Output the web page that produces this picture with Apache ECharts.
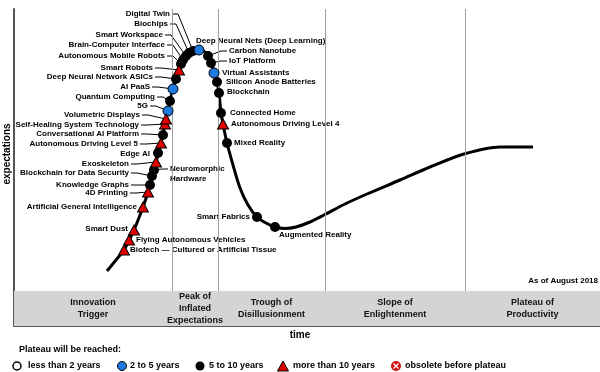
<!DOCTYPE html>
<html><head><meta charset="utf-8">
<script src="https://cdn.jsdelivr.net/npm/echarts@6/dist/echarts.min.js"></script>
<style>html,body{margin:0;padding:0;background:#fff}#c{width:600px;height:372px}</style>
</head><body><div id="c"></div>
<script>
// ---------- DATA ----------
const technologies = [
  'Biotech \u2014 Cultured or Artificial Tissue','Flying Autonomous Vehicles','Smart Dust',
  'Artificial General Intelligence','4D Printing','Knowledge Graphs','Blockchain for Data Security',
  'Neuromorphic\nHardware','Exoskeleton','Edge AI','Autonomous Driving Level 5',
  'Conversational AI Platform','Self-Healing System Technology','Volumetric Displays','5G',
  'Quantum Computing','AI PaaS','Deep Neural Network ASICs','Smart Robots',
  'Autonomous Mobile Robots','Brain-Computer Interface','Smart Workspace','Biochips','Digital Twin',
  'Deep Neural Nets (Deep Learning)','Carbon Nanotube','IoT Platform','Virtual Assistants',
  'Silicon Anode Batteries','Blockchain','Connected Home','Autonomous Driving Level 4',
  'Mixed Reality','Smart Fabrics','Augmented Reality'
];
const techTime = [110,115,120,129,134,136,138,140,142,144,147,149,151,152,154,156,159,162,165,167,169,172,175,179,185,194,197,200,203,205,207,209,213,243,261];
const techExpect = [41,51,61,84,99,106,115,121,129,138,148,156,167,172,180,190,202,212,221,227,231,235,238,240,241,235,228,218,209,198,178,167,148,74,64];
// plateau: 'b' = 2 to 5 years, 'k' = 5 to 10 years, 't' = more than 10 years
const techPlateau = ['t','t','t','t','t','k','k','k','t','k','t','k','t','t','b','k','b','k','t','k','k','k','k','k','b','k','k','b','k','k','k','t','k','k','k'];

const curveTime = [93,102,110,120,129,134,138,142,147,151,154,156,159,162,165,169,175,181,186,191,195,198,200,203,205,207,209,213,219,226,234,243,252,261,271,282,296,310,331,353,386,416,450,486,519];
const curveExpect = [20,31,41,61,84,99,115,129,148,167,180,190,202,212,221,231,238,241,241.5,239,233,226,218,209,198,178,167,148,126,103,86,74,68,64,62.5,64,69,76,87,97,111,124,137,144,144];

const phaseNames = ['Innovation\nTrigger','Peak of\nInflated\nExpectations','Trough of\nDisillusionment','Slope of\nEnlightenment','Plateau of\nProductivity'];
const phaseBounds = [0,158,204,311,451,586];

const legendTitle = 'Plateau will be reached:';
const legendLabels = ['less than 2 years','2 to 5 years','5 to 10 years','more than 10 years','obsolete before plateau'];
const asOf = 'As of August 2018';

// ---------- LABEL LAYOUT (offsets px from marker, side, leader) ----------
const labelLayout = [
  [6,0,'R',0],[7,0,'R',0],[-6,-1,'L',0],[-6,0,'L',0],[-20,1,'L',1],[-21,0,'L',1],[-23,-3,'L',1],
  [16,-1,'R',1],[-27,2,'L',1],[-8,1,'L',0],[-23,1,'L',1],[-24,-1,'L',1],[-26,1,'L',1],[-26,-4,'L',1],
  [-20,-5,'L',1],[-15,-4,'L',1],[-23,-2,'L',1],[-23,-2,'L',1],[-26,-2,'L',1],[-16,-8,'L',1],
  [-18,-15,'L',1],[-23,-21,'L',1],[-21,-29,'L',1],[-23,-37,'L',1],[-3,-9,'R',0],[21,-5,'R',1],
  [18,-2,'R',1],[8,0,'R',0],[9,0,'R',0],[8,-1,'R',0],[9,0,'R',0],[8,0,'R',0],[7,0,'R',0],[-7,0,'L',0],[4,8,'R',0]
];

const FONT = '"Liberation Sans", Arial, sans-serif';
const chart = echarts.init(document.getElementById('c'));

function pts(code){
  const out=[];
  technologies.forEach((n,i)=>{ if(techPlateau[i]===code) out.push([techTime[i],techExpect[i],n]); });
  return out;
}

const option = {
  animation:false,
  grid:{left:14,right:0,top:9,bottom:46},
  xAxis:{type:'value',min:0,max:586,axisLine:{show:true,onZero:false,lineStyle:{color:'#555',width:2}},
    axisTick:{show:false},axisLabel:{show:false},splitLine:{show:false}},
  yAxis:{type:'value',min:-35,max:282,axisLine:{show:true,onZero:false,lineStyle:{color:'#555',width:2}},
    axisTick:{show:false},axisLabel:{show:false},splitLine:{show:false}},
  series:[
    {type:'line',z:2,smooth:0.3,symbol:'none',silent:true,
     data:curveTime.map((x,i)=>[x,curveExpect[i]]),
     lineStyle:{color:'#000',width:3},
     markArea:{silent:true,itemStyle:{color:'#d4d4d4'},
       label:{show:true,position:'inside',fontFamily:FONT,fontWeight:'bold',fontSize:9,lineHeight:12,color:'#111',align:'center'},
       data:phaseNames.map((n,i)=>[{name:n,coord:[phaseBounds[i],-35]},{coord:[phaseBounds[i+1],0]}])},
     markLine:{silent:true,symbol:'none',label:{show:false},lineStyle:{color:'#a0a0a0',width:1,type:'solid'},
       data:phaseBounds.slice(1,-1).map(b=>[{coord:[b,0]},{coord:[b,282]}])}
    },
    {type:'custom',z:3,silent:true,clip:false,
     data:technologies.map((n,i)=>[techTime[i],techExpect[i],i]),
     renderItem:function(params,api){
       const i=api.value(2);
       const p=api.coord([api.value(0),api.value(1)]);
       const L=labelLayout[i];
       const ax=p[0]+L[0], ay=p[1]+L[1];
       const left=L[2]==='L';
       const lh=10;
       const children=[{type:'text',style:{x:ax,y:ay-lh/2,text:technologies[i],align:left?'right':'left',
         verticalAlign:'top',lineHeight:lh,font:'bold 8px '+FONT,fill:'#000'}}];
       if(L[3]){
         const sx=left?ax+2:ax-2;
         const ex=left?sx+6:sx-6;
         children.push({type:'polyline',shape:{points:[[sx,ay],[ex,ay],[p[0],p[1]]]},style:{stroke:'#000',lineWidth:1,fill:null}});
       }
       return {type:'group',children:children};
     }},
    {type:'scatter',z:5,name:'5 to 10 years',symbol:'circle',symbolSize:10,data:pts('k'),
     itemStyle:{color:'#000',opacity:1}},
    {type:'scatter',z:5,name:'2 to 5 years',symbol:'circle',symbolSize:10,data:pts('b'),
     itemStyle:{color:'#1f7ae0',borderColor:'#000',borderWidth:1,opacity:1}},
    {type:'scatter',z:6,name:'more than 10 years',symbol:'triangle',symbolSize:[11,10],data:pts('t'),
     itemStyle:{color:'#e00000',borderColor:'#000',borderWidth:1,opacity:1}}
  ],
  graphic:[
    {type:'text',x:598,y:281,style:{text:asOf,align:'right',verticalAlign:'middle',font:'bold 8px '+FONT,fill:'#000'}},
    {type:'text',x:300,y:335,style:{text:'time',align:'center',verticalAlign:'middle',font:'bold 10px '+FONT,fill:'#000'}},
    {type:'text',x:7,y:154,rotation:Math.PI/2,style:{text:'expectations',align:'center',verticalAlign:'middle',font:'bold 10px '+FONT,fill:'#000'}},
    {type:'text',x:19,y:350,style:{text:legendTitle,align:'left',verticalAlign:'middle',font:'bold 9px '+FONT,fill:'#000'}},
    {type:'circle',shape:{cx:17,cy:366,r:4},style:{fill:'#fff',stroke:'#000',lineWidth:1.5}},
    {type:'text',x:28,y:366,style:{text:legendLabels[0],verticalAlign:'middle',font:'bold 9px '+FONT,fill:'#000'}},
    {type:'circle',shape:{cx:122,cy:366,r:4.5},style:{fill:'#1f7ae0',stroke:'#000',lineWidth:1}},
    {type:'text',x:130,y:366,style:{text:legendLabels[1],verticalAlign:'middle',font:'bold 9px '+FONT,fill:'#000'}},
    {type:'circle',shape:{cx:200,cy:366,r:4.5},style:{fill:'#000'}},
    {type:'text',x:209,y:366,style:{text:legendLabels[2],verticalAlign:'middle',font:'bold 9px '+FONT,fill:'#000'}},
    {type:'polygon',shape:{points:[[283,361],[288.5,371],[277.5,371]]},style:{fill:'#e00000',stroke:'#000',lineWidth:1}},
    {type:'text',x:293,y:366,style:{text:legendLabels[3],verticalAlign:'middle',font:'bold 9px '+FONT,fill:'#000'}},
    {type:'circle',shape:{cx:396,cy:366,r:5},style:{fill:'#d01010'}},
    {type:'line',shape:{x1:393.5,y1:363.5,x2:398.5,y2:368.5},style:{stroke:'#fff',lineWidth:1.2}},
    {type:'line',shape:{x1:398.5,y1:363.5,x2:393.5,y2:368.5},style:{stroke:'#fff',lineWidth:1.2}},
    {type:'text',x:405,y:366,style:{text:legendLabels[4],verticalAlign:'middle',font:'bold 9px '+FONT,fill:'#000'}}
  ]
};
chart.setOption(option);
</script></body></html>
